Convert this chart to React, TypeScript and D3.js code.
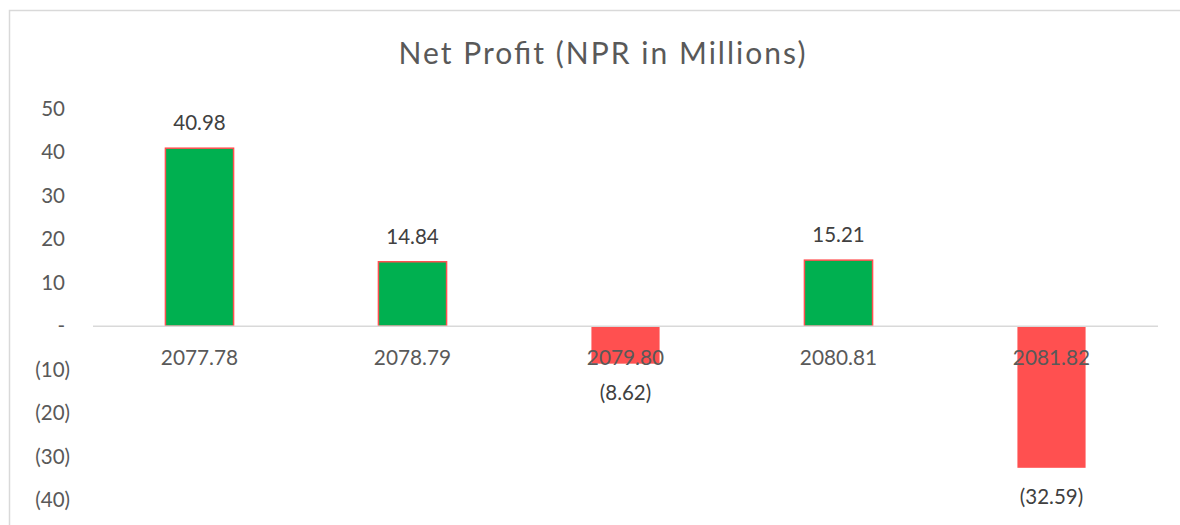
import React from 'react';
import * as d3 from 'd3';

// chart values
const categories = ['2077.78', '2078.79', '2079.80', '2080.81', '2081.82'];
const netProfit = [40.98, 14.84, -8.62, 15.21, -32.59];
const yTicks = [50, 40, 30, 20, 10, 0, -10, -20, -30, -40];
const title = 'Net Profit (NPR in Millions)';

const W = 1180;
const H = 525;
const FONT = 'Lato, "Open Sans", sans-serif';

const fmtTick = (v: number) => (v === 0 ? '-' : v > 0 ? String(v) : `(${-v})`);
const fmtVal = (v: number) => (v < 0 ? `(${(-v).toFixed(2)})` : v.toFixed(2));

const App = () => {
  const x = d3.scaleBand<string>()
    .domain(categories)
    .range([93, 1158])
    .paddingInner(0.68)
    .paddingOuter(0.34);

  const y = d3.scaleLinear().domain([-40, 50]).range([500, 109]);
  const y0 = y(0);

  const rows = categories.map((c, i) => ({ cat: c, v: netProfit[i] }));

  return (
    <svg width={W} height={H} style={{ position: 'absolute', left: 0, top: 0, background: '#fff' }}>
      {/* chart frame */}
      <rect x={9.5} y={10.5} width={1200} height={600} fill="#fff" stroke="#d9d9d9" strokeWidth={1.5} />

      <text
        x={602}
        y={64}
        textAnchor="middle"
        fontFamily={FONT}
        fontSize={30}
        fill="#595959"
        textLength={407}
        lengthAdjust="spacing"
      >
        {title}
      </text>

      {/* y tick labels */}
      {yTicks.map(t => (
        <text
          key={t}
          x={t < 0 ? 70 : 65}
          y={y(t) + 7}
          textAnchor="end"
          fontFamily={FONT}
          fontSize={20.5}
          fill="#595959"
        >
          {fmtTick(t)}
        </text>
      ))}

      {/* bars */}
      {rows.map(d => {
        const top = d.v >= 0 ? y(d.v) : y0;
        const h = Math.abs(y(d.v) - y0);
        return (
          <rect
            key={d.cat}
            x={x(d.cat)}
            y={top}
            width={x.bandwidth()}
            height={h}
            fill={d.v >= 0 ? '#00B050' : '#FF5050'}
            stroke={d.v >= 0 ? '#FF5050' : 'none'}
            strokeWidth={1.5}
          />
        );
      })}

      {/* zero line */}
      <line x1={93} x2={1158} y1={y0} y2={y0} stroke="#d9d9d9" strokeWidth={1.5} />

      {/* category labels */}
      {rows.map(d => (
        <text
          key={'c' + d.cat}
          x={(x(d.cat) ?? 0) + x.bandwidth() / 2}
          y={y0 + 39}
          textAnchor="middle"
          fontFamily={FONT}
          fontSize={20.8}
          fill="#595959"
        >
          {d.cat}
        </text>
      ))}

      {/* value labels */}
      {rows.map(d => (
        <text
          key={'v' + d.cat}
          x={(x(d.cat) ?? 0) + x.bandwidth() / 2}
          y={d.v >= 0 ? y(d.v) - 18 : y(d.v) + 36}
          textAnchor="middle"
          fontFamily={FONT}
          fontSize={20.5}
          fill="#404040"
        >
          {fmtVal(d.v)}
        </text>
      ))}
    </svg>
  );
};

export default App;
